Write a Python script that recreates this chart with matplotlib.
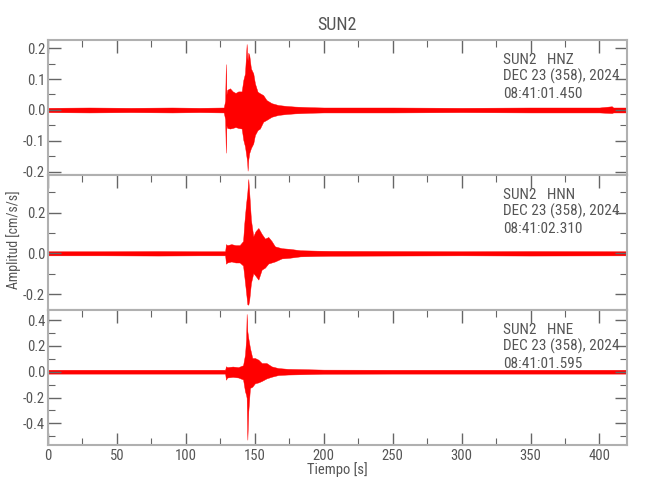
import matplotlib
matplotlib.use("Agg")
import matplotlib.pyplot as plt
from matplotlib import font_manager
from matplotlib.ticker import MultipleLocator

# --- data: amplitude envelopes (cm/s/s) vs time (s) ---
t_hnz = [0, 30, 60, 90, 110, 127.5, 128.5, 129.0, 129.4, 130.0, 132, 134, 136, 138,
         140.5, 141.7, 142.9, 144.1, 144.5, 144.8, 145.3, 146.0, 147.2, 148.9, 150.1,
         152.0, 153.7, 156.1, 158.5, 162.2, 167, 173, 179, 190, 200, 250, 300, 350,
         400, 409, 410, 420]
up_hnz = [0.007, 0.008, 0.007, 0.008, 0.007, 0.008, 0.03, 0.148, 0.05, 0.065, 0.07,
          0.06, 0.055, 0.06, 0.06, 0.097, 0.118, 0.213, 0.17, 0.16, 0.185, 0.177,
          0.134, 0.118, 0.086, 0.059, 0.054, 0.048, 0.032, 0.022, 0.016, 0.013, 0.011,
          0.009, 0.008, 0.008, 0.007, 0.008, 0.008, 0.012, 0.008, 0.008]
lo_hnz = [-0.007, -0.008, -0.007, -0.008, -0.007, -0.008, -0.03, -0.138, -0.05,
          -0.058, -0.06, -0.058, -0.055, -0.058, -0.06, -0.097, -0.118, -0.155,
          -0.17, -0.196, -0.16, -0.139, -0.123, -0.108, -0.081, -0.065, -0.06,
          -0.038, -0.032, -0.022, -0.016, -0.013, -0.011, -0.009, -0.008, -0.008,
          -0.007, -0.008, -0.008, -0.01, -0.008, -0.008]

t_hnn = [0, 40, 80, 110, 128.5, 129.1, 130, 133, 136, 139, 141.5, 142.4, 143.6, 144.6,
         145.3, 146.0, 147.2, 148.9, 150.5, 152.6, 155, 157.4, 159.8, 162.2, 164.6,
         169.5, 175, 183, 195, 205, 250, 300, 350, 420]
up_hnn = [0.01, 0.01, 0.011, 0.01, 0.01, 0.045, 0.04, 0.045, 0.04, 0.04, 0.06, 0.148,
          0.238, 0.30, 0.364, 0.295, 0.165, 0.083, 0.108, 0.124, 0.095, 0.072, 0.08,
          0.06, 0.034, 0.025, 0.022, 0.015, 0.013, 0.012, 0.011, 0.01, 0.011, 0.01]
lo_hnn = [-0.01, -0.01, -0.011, -0.01, -0.01, -0.051, -0.045, -0.04, -0.045, -0.045,
          -0.06, -0.113, -0.186, -0.25, -0.252, -0.227, -0.146, -0.097, -0.11, -0.129,
          -0.08, -0.07, -0.05, -0.045, -0.04, -0.025, -0.022, -0.015, -0.013, -0.012,
          -0.011, -0.01, -0.011, -0.01]

t_hne = [0, 40, 80, 110, 128.5, 129.1, 130, 134, 138, 141.5, 142.9, 143.7, 144.1,
         144.6, 145.3, 146.5, 148.2, 150.1, 152.6, 155, 158.5, 162.2, 167, 174, 183,
         200, 250, 300, 350, 420]
up_hne = [0.015, 0.015, 0.015, 0.015, 0.015, 0.042, 0.035, 0.04, 0.035, 0.05, 0.132,
          0.25, 0.447, 0.313, 0.26, 0.184, 0.106, 0.106, 0.093, 0.067, 0.067, 0.041,
          0.028, 0.022, 0.02, 0.016, 0.015, 0.015, 0.015, 0.015]
lo_hne = [-0.015, -0.015, -0.015, -0.015, -0.015, -0.062, -0.045, -0.04, -0.045,
          -0.06, -0.152, -0.18, -0.204, -0.527, -0.307, -0.126, -0.116, -0.09, -0.083,
          -0.072, -0.052, -0.039, -0.026, -0.022, -0.02, -0.016, -0.015, -0.015,
          -0.015, -0.015]

channels = ["HNZ", "HNN", "HNE"]
start_times = ["08:41:01.450", "08:41:02.310", "08:41:01.595"]
station = "SUN2"
date_text = "DEC 23 (358), 2024"
ylims = [(-0.21, 0.226), (-0.278, 0.384), (-0.568, 0.478)]
ymajor = [0.1, 0.2, 0.2]
yminor = [0.05, 0.1, 0.1]

# narrow sans if there is one installed
names = {f.name for f in font_manager.fontManager.ttflist}
narrow = [n for n in ("Liberation Sans Narrow", "Roboto Condensed", "Open Sans Condensed",
                      "DejaVu Sans Condensed") if n in names]
plt.rcParams["font.family"] = narrow + ["DejaVu Sans"]
plt.rcParams["font.stretch"] = "condensed"

grey_txt = "#555555"
spine_c = "#b0b0b0"

fig = plt.figure(figsize=(6.5, 5), dpi=100)
axes = fig.subplots(3, 1, sharex=True, gridspec_kw={"hspace": 0})
fig.subplots_adjust(left=48 / 650, right=627 / 650, top=1 - 40 / 500, bottom=1 - 445 / 500)

series = [(t_hnz, up_hnz, lo_hnz), (t_hnn, up_hnn, lo_hnn), (t_hne, up_hne, lo_hne)]
for i, ax in enumerate(axes):
    t, up, lo = series[i]
    ax.fill_between(t, lo, up, color="red", lw=0.3, edgecolor="red")
    ax.set_xlim(0, 420)
    ax.set_ylim(*ylims[i])
    ax.xaxis.set_major_locator(MultipleLocator(50))
    ax.xaxis.set_minor_locator(MultipleLocator(25))
    ax.yaxis.set_major_locator(MultipleLocator(ymajor[i]))
    ax.yaxis.set_minor_locator(MultipleLocator(yminor[i]))
    ax.yaxis.set_major_formatter(matplotlib.ticker.FormatStrFormatter("%.1f"))
    last = i == len(axes) - 1
    ax.tick_params(which="both", direction="in", top=True, right=True, bottom=last,
                   colors="#666666", labelcolor=grey_txt, labelsize=10.5)
    ax.tick_params(which="major", length=9, width=1)
    ax.tick_params(which="minor", length=5, width=0.8)
    ax.tick_params(axis="y", pad=2)
    ax.tick_params(axis="x", pad=3)
    for s in ax.spines.values():
        s.set_color(spine_c)
        s.set_linewidth(1.5)
    lines = [f"{station}   {channels[i]}", date_text, start_times[i]]
    for k, txt in enumerate(lines):
        ax.text(0.786, 0.825 - 0.126 * k, txt, transform=ax.transAxes,
                fontsize=11, color=grey_txt, va="baseline", ha="left")

fig.text(0.519, 0.95, station, ha="center", va="center", fontsize=13, color=grey_txt)
fig.text(0.0215, 0.52, "Amplitud [cm/s/s]", rotation=90, ha="center", va="center",
         fontsize=10, color=grey_txt)
fig.text(0.519, 0.06, "Tiempo [s]", ha="center", va="center", fontsize=10.5, color=grey_txt)

fig.savefig("out.png", dpi=100)
